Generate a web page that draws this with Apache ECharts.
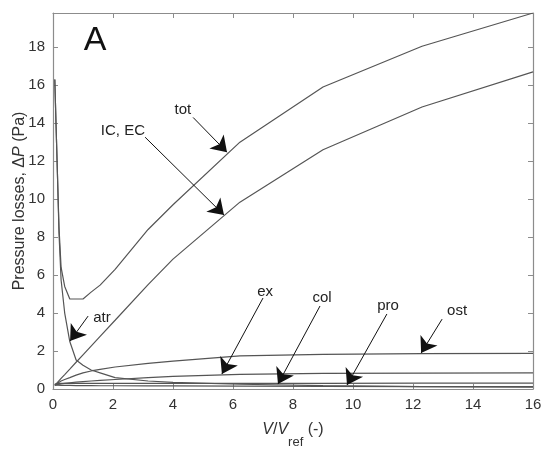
<!DOCTYPE html>
<html>
<head>
<meta charset="utf-8">
<script src="https://cdn.jsdelivr.net/npm/echarts@6/dist/echarts.min.js"></script>
<style>
  html, body { margin: 0; padding: 0; background: #fff; }
  #main { width: 550px; height: 452px; }
</style>
</head>
<body>
<div id="main"></div>
<script>
// flow ratio V/Vref, shared by all curves
var xs   = [0.06, 0.1, 0.15, 0.2, 0.27, 0.39, 0.56, 0.77, 1.0, 1.27, 1.57, 2.07, 3.17, 4.0, 6.23, 9.0, 12.3, 16.0];
// pressure losses (Pa)
var tot  = [16.3, 14.0, 11.2, 8.5, 6.4, 5.4, 4.74, 4.74, 4.74, 5.1, 5.47, 6.3, 8.4, 9.7, 13.0, 15.9, 18.05, 19.8];
var icec = [0.2, 0.27, 0.35, 0.44, 0.56, 0.76, 1.05, 1.41, 1.8, 2.26, 2.77, 3.62, 5.5, 6.84, 9.84, 12.6, 14.85, 16.7];
var atr  = [16.3, 14.0, 11.2, 8.2, 5.74, 4.0, 2.5, 1.53, 1.25, 1.0, 0.85, 0.6, 0.42, 0.35, 0.25, 0.18, 0.13, 0.1];
var ost  = [0.2, 0.25, 0.3, 0.35, 0.42, 0.5, 0.6, 0.73, 0.85, 0.95, 1.03, 1.16, 1.35, 1.47, 1.74, 1.82, 1.86, 1.88];
var ex   = [0.2, 0.22, 0.23, 0.25, 0.27, 0.3, 0.33, 0.36, 0.39, 0.42, 0.45, 0.5, 0.6, 0.66, 0.77, 0.82, 0.84, 0.85];
var col  = [0.25, 0.28, 0.3, 0.3, 0.3, 0.3, 0.3, 0.3, 0.3, 0.3, 0.3, 0.3, 0.3, 0.3, 0.3, 0.3, 0.31, 0.31];
var pro  = [0.2, 0.2, 0.2, 0.2, 0.19, 0.19, 0.19, 0.18, 0.18, 0.18, 0.17, 0.17, 0.16, 0.16, 0.15, 0.14, 0.13, 0.12];

// annotation text: [label, x, y]
var notes = [
  ['tot', 4.33, 14.68],
  ['IC, EC', 2.33, 13.58],
  ['atr', 1.63, 3.74],
  ['ex', 7.07, 5.1],
  ['col', 8.97, 4.79],
  ['pro', 11.17, 4.37],
  ['ost', 13.47, 4.1]
];
// arrows: [x from, y from, x to, y to]
var arrows = [
  [4.67, 14.3, 5.8, 12.47],
  [3.07, 13.26, 5.7, 9.16],
  [1.17, 3.84, 0.57, 2.53],
  [7.0, 4.79, 5.63, 0.79],
  [8.9, 4.37, 7.5, 0.26],
  [11.13, 3.95, 9.8, 0.21],
  [12.97, 3.68, 12.27, 1.89]
];

var font = 'Liberation Sans';
var lineColor = '#555';
var boxColor = '#8c8c8c';

function pairs(ys) {
  return xs.map(function (x, i) { return [x, ys[i]]; });
}

function curve(name, ys) {
  return {
    name: name,
    type: 'line',
    data: pairs(ys),
    symbol: 'none',
    lineStyle: { color: lineColor, width: 1.2 },
    itemStyle: { color: lineColor },
    silent: true
  };
}

var series = [
  curve('tot', tot),
  curve('IC, EC', icec),
  curve('atr', atr),
  curve('ost', ost),
  curve('ex', ex),
  curve('col', col),
  curve('pro', pro)
];

// arrows and labels on their own empty series
series.push({
  name: 'arrows',
  type: 'line',
  data: [],
  silent: true,
  markLine: {
    silent: true,
    symbol: ['none', 'arrow'],
    symbolSize: 15,
    label: { show: false },
    itemStyle: { color: '#000' },
    lineStyle: { color: '#111', width: 1, type: 'solid' },
    emphasis: { disabled: true },
    data: arrows.map(function (a) {
      return [{ coord: [a[0], a[1]] }, { coord: [a[2], a[3]] }];
    })
  },
  markPoint: {
    silent: true,
    symbol: 'circle',
    symbolSize: 0,
    label: { show: true, position: 'inside', color: '#222', fontFamily: font, fontSize: 15 },
    data: notes.map(function (n) {
      return { name: n[0], coord: [n[1], n[2]], label: { formatter: n[0] } };
    }).concat([{
      name: 'A', coord: [1.4, 18.37],
      label: { formatter: 'A', fontSize: 34, color: '#111' }
    }])
  }
});

function baseAxis(extra) {
  var ax = {
    type: 'value',
    axisLine: { show: true, onZero: false, lineStyle: { color: boxColor, width: 1.2 } },
    axisTick: { show: true, inside: true, length: 5, lineStyle: { color: boxColor } },
    splitLine: { show: false },
    axisLabel: { show: false }
  };
  for (var k in extra) ax[k] = extra[k];
  return ax;
}

var tickLabel = { show: true, color: '#333', fontFamily: font, fontSize: 15, margin: 8 };

var option = {
  animation: false,
  backgroundColor: '#fff',
  grid: { left: 53, right: 17, top: 13, bottom: 63, containLabel: false, outerBoundsMode: 'none' },
  xAxis: [
    baseAxis({
      min: 0, max: 16, interval: 2, position: 'bottom',
      axisLabel: tickLabel,
      name: '{i|V}{n|/}{i|V}{s|ref}{n| (-)}',
      nameLocation: 'middle',
      nameGap: 33,
      nameMoveOverlap: false,
      nameTextStyle: {
        fontFamily: font, fontSize: 16, color: '#333',
        rich: {
          n: { fontFamily: font, fontSize: 16, color: '#333', lineHeight: 20, verticalAlign: 'top' },
          i: { fontFamily: font, fontSize: 16, color: '#333', fontStyle: 'italic', lineHeight: 20, verticalAlign: 'top' },
          s: { fontFamily: font, fontSize: 13, color: '#333', lineHeight: 27, verticalAlign: 'bottom' }
        }
      }
    }),
    baseAxis({ min: 0, max: 16, interval: 2, position: 'top' })
  ],
  yAxis: [
    baseAxis({
      min: 0, max: 19.8, interval: 2, position: 'left',
      axisLabel: { show: true, color: '#333', fontFamily: font, fontSize: 15, margin: 8, showMaxLabel: false },
      name: '{n|Pressure losses, Δ}{i|P}{n| (Pa)}',
      nameLocation: 'middle',
      nameGap: 25,
      nameMoveOverlap: false,
      nameTextStyle: {
        fontFamily: font, fontSize: 16, color: '#333',
        rich: {
          n: { fontFamily: font, fontSize: 16, color: '#333' },
          i: { fontFamily: font, fontSize: 16, color: '#333', fontStyle: 'italic' }
        }
      }
    }),
    baseAxis({ min: 0, max: 19.8, interval: 2, position: 'right' })
  ],
  series: series
};

var chart = echarts.init(document.getElementById('main'));
chart.setOption(option);
window.onresize = chart.resize;
</script>
</body>
</html>
